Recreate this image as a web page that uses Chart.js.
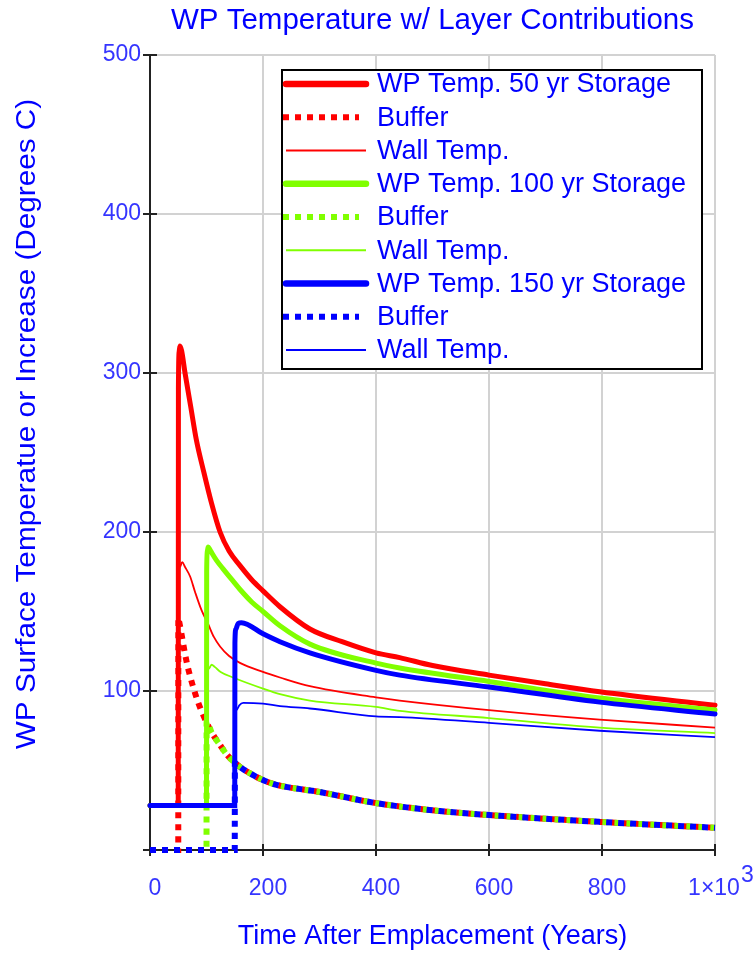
<!DOCTYPE html>
<html>
<head>
<meta charset="utf-8">
<title>WP Temperature w/ Layer Contributions</title>
<script src="https://cdn.jsdelivr.net/npm/chart.js@4.4.0/dist/chart.umd.min.js"></script>
<style>
    html, body { margin: 0; padding: 0; background: #ffffff; }
    #wrap { width: 755px; height: 953px; position: relative; }
</style>
</head>
<body>
<div id="wrap"><canvas id="tempChart"></canvas></div>
<script>
// Étiquettes de l'axe des x (années)
const xTicks = [0, 200, 400, 600, 800, 1000];

// Légende, dans l'ordre des séries
const legendLabels = [
    'WP Temp. 50 yr Storage', 'Buffer', 'Wall Temp.',
    'WP Temp. 100 yr Storage', 'Buffer', 'Wall Temp.',
    'WP Temp. 150 yr Storage', 'Buffer', 'Wall Temp.'
];

// Stockage 50 ans
const wpYears50 = [0, 50, 50.3, 51.5, 53, 56, 62, 72, 82, 95, 109, 124, 140, 159, 180, 200, 230, 283, 340, 400, 442, 500, 600, 700, 796, 1000];
const wpTemp50  = [28, 28, 290, 313, 317, 314, 300, 279, 258, 238, 218, 200, 188, 179, 170, 163, 153, 139, 131, 124, 121, 116, 110, 104.5, 99.5, 91];
const bufferYears50 = [0, 50, 50.2, 52, 65, 76, 85, 94, 109, 124, 136, 153, 178, 200, 224, 300, 400, 513, 600, 800, 1000];
const buffer50      = [0, 0, 146, 143, 118, 103, 93, 85, 74, 66, 60, 54, 48, 44, 41, 36.5, 29.5, 24.5, 22, 17.6, 14];
const wallYears50 = [0, 50, 50.3, 53, 57, 62, 71, 80, 91, 103, 113, 124, 140, 160, 200, 230, 283, 400, 442, 600, 796, 1000];
const wall50      = [28, 28, 165, 178, 181, 178, 172, 162, 151, 142, 134, 128, 122, 117.5, 112, 108.5, 103, 96, 94, 88, 82, 77];

// Stockage 100 ans
const wpYears100 = [0, 100, 100.3, 101.5, 103, 106, 110, 118, 129, 145, 159, 180, 200, 230, 283, 400, 442, 600, 796, 1000];
const wpTemp100  = [28, 28, 175, 188, 190.5, 189, 186.5, 182, 177, 170, 164, 156, 150, 141, 129.5, 117.5, 114.5, 106, 95.6, 88];
const bufferYears100 = [0, 100, 100.2, 109, 124, 136, 153, 178, 200, 224, 300, 400, 513, 600, 800, 1000];
const buffer100      = [0, 0, 81, 74, 66, 60, 54, 48, 44, 41, 36.5, 29.5, 24.5, 22, 17.6, 14];
const wallYears100 = [0, 100, 100.3, 104, 109, 115, 125, 147, 200, 230, 283, 400, 442, 600, 796, 1000];
const wall100      = [28, 28, 108, 114, 116.5, 115, 112, 108.5, 101.5, 98, 94, 90, 87.5, 83, 77, 73.5];

// Stockage 150 ans
const wpYears150 = [0, 150, 150.3, 152, 156, 162, 200, 230, 283, 400, 442, 600, 796, 1000];
const wpTemp150  = [28, 28, 130, 139, 142.5, 143, 136, 131, 124, 113, 110, 102.5, 93, 85.5];
const bufferYears150 = [0, 150, 150.2, 153, 178, 200, 224, 300, 400, 513, 600, 800, 1000];
const buffer150      = [0, 0, 55, 54, 48, 44, 41, 36.5, 29.5, 24.5, 22, 17.6, 14];
const wallYears150 = [0, 150, 150.3, 153, 158, 165, 200, 230, 283, 400, 442, 600, 796, 1000];
const wall150      = [28, 28, 82, 88, 91, 92.5, 92, 90.5, 89, 84, 83.6, 80, 75, 71];

const FONT = '"Liberation Sans", Arial, sans-serif';
const TEXT_BLUE = '#0000ff';
const TICK_BLUE = '#3535ff';
const RED = '#ff0000', GREEN = '#80ff00', BLUE = '#0000ff';

// Construire les points {x, y}
function toPoints(xs, ys) {
    return xs.map((x, i) => ({ x: x, y: ys[i] }));
}

// Style commun des trois types de courbes
function wpSet(label, xs, ys, color, order) {
    return { label, data: toPoints(xs, ys), borderColor: color, borderWidth: 5,
             borderCapStyle: 'round', clip: false, order };
}
function bufferSet(label, xs, ys, color, order) {
    return { label, data: toPoints(xs, ys), borderColor: color, borderWidth: 6,
             borderDash: [6, 6], borderCapStyle: 'butt', clip: false, order };
}
function wallSet(label, xs, ys, color, order) {
    return { label, data: toPoints(xs, ys), borderColor: color, borderWidth: 1.8,
             clip: false, order };
}

// Les ordres élevés sont dessinés en premier (le bleu passe au-dessus)
const datasets = [
    wpSet(legendLabels[0], wpYears50, wpTemp50, RED, 33),
    bufferSet(legendLabels[1], bufferYears50, buffer50, RED, 31),
    wallSet(legendLabels[2], wallYears50, wall50, RED, 32),
    wpSet(legendLabels[3], wpYears100, wpTemp100, GREEN, 23),
    bufferSet(legendLabels[4], bufferYears100, buffer100, GREEN, 21),
    wallSet(legendLabels[5], wallYears100, wall100, GREEN, 22),
    wpSet(legendLabels[6], wpYears150, wpTemp150, BLUE, 13),
    bufferSet(legendLabels[7], bufferYears150, buffer150, BLUE, 11),
    wallSet(legendLabels[8], wallYears150, wall150, BLUE, 12)
];

// Titre, titre vertical, légende encadrée et petites graduations intérieures
const decorPlugin = {
    id: 'decor',
    beforeDatasetsDraw(chart) {
        const ctx = chart.ctx;
        const area = chart.chartArea;
        const xs = chart.scales.x, ys = chart.scales.y;
        ctx.save();
        ctx.strokeStyle = '#222';
        ctx.lineWidth = 2;
        ctx.beginPath();
        xTicks.forEach(v => {
            const px = Math.round(xs.getPixelForValue(v));
            ctx.moveTo(px, area.bottom);
            ctx.lineTo(px, area.bottom - 6);
        });
        for (let v = 100; v <= 500; v += 100) {
            const py = Math.round(ys.getPixelForValue(v));
            ctx.moveTo(area.left, py);
            ctx.lineTo(area.left + 7, py);
        }
        ctx.stroke();
        ctx.restore();
    },
    afterDraw(chart) {
        const ctx = chart.ctx;
        const area = chart.chartArea;
        const xs = chart.scales.x;
        ctx.save();

        // Titre centré sur la zone du graphique
        ctx.fillStyle = TEXT_BLUE;
        ctx.font = '29.5px ' + FONT;
        ctx.textAlign = 'center';
        ctx.textBaseline = 'middle';
        ctx.fillText('WP Temperature w/ Layer Contributions', (area.left + area.right) / 2, 21);

        // Titre de l'axe des y, un peu étiré
        ctx.save();
        ctx.translate(28, 424);
        ctx.rotate(-Math.PI / 2);
        ctx.scale(1.1, 1);
        ctx.font = '27px ' + FONT;
        ctx.fillText('WP Surface Temperatue or Increase (Degrees C)', 0, 0);
        ctx.restore();

        // Dernier libellé de l'axe des x : 1×10 avec l'exposant 3
        ctx.fillStyle = TICK_BLUE;
        ctx.font = '23px ' + FONT;
        ctx.textBaseline = 'alphabetic';
        ctx.textAlign = 'center';
        const cx = xs.getPixelForValue(1000) - 1;
        const half = ctx.measureText('1×10').width / 2;
        ctx.fillText('1×10', cx, area.bottom + 45);
        ctx.textAlign = 'left';
        ctx.fillText('3', cx + half + 1, area.bottom + 32);

        // Cadre de la légende
        const boxW = 420, boxH = 299;
        const bx = area.right - 13 - boxW;
        const by = area.top + 15;
        ctx.fillStyle = '#ffffff';
        ctx.fillRect(bx, by, boxW, boxH);
        ctx.strokeStyle = '#000000';
        ctx.lineWidth = 2;
        ctx.strokeRect(bx, by, boxW, boxH);

        ctx.font = '27px ' + FONT;
        ctx.textAlign = 'left';
        ctx.textBaseline = 'middle';
        chart.data.datasets.forEach((ds, i) => {
            const y = by + 14 + i * 33.25;
            ctx.save();
            ctx.strokeStyle = ds.borderColor;
            ctx.lineWidth = ds.borderWidth > 4 && !ds.borderDash ? 6.5 : ds.borderWidth;
            ctx.lineCap = ds.borderCapStyle || 'butt';
            ctx.setLineDash(ds.borderDash || []);
            ctx.beginPath();
            if (ds.borderDash) {
                ctx.moveTo(bx + 1, y);
                ctx.lineTo(bx + 77, y);
            } else {
                ctx.moveTo(bx + 4, y);
                ctx.lineTo(bx + 84, y);
            }
            ctx.stroke();
            ctx.restore();
            ctx.fillStyle = TEXT_BLUE;
            ctx.fillText(ds.label, bx + 95, y + 1);
        });
        ctx.restore();
    }
};

const ctx = document.getElementById('tempChart').getContext('2d');
const tempChart = new Chart(ctx, {
    type: 'line',
    data: { datasets: datasets },
    options: {
        responsive: true,
        maintainAspectRatio: false,
        animation: false,
        devicePixelRatio: 1,
        layout: { padding: { top: 55, right: 40, bottom: 0, left: 0 } },
        elements: {
            point: { radius: 0, hoverRadius: 0 },
            line: { tension: 0, cubicInterpolationMode: 'monotone', fill: false }
        },
        plugins: {
            legend: { display: false },
            tooltip: { enabled: false }
        },
        scales: {
            x: {
                type: 'linear',
                min: 0,
                max: 1000,
                afterFit: s => { s.height = 103; s.paddingLeft = 0; s.paddingRight = 0; },
                afterBuildTicks: s => { s.ticks = xTicks.map(v => ({ value: v })); },
                grid: { color: '#d2d2d2', lineWidth: 2, tickLength: 6, tickColor: '#222', tickWidth: 2 },
                border: { color: '#222', width: 2 },
                ticks: {
                    autoSkip: false,
                    maxRotation: 0,
                    padding: 19,
                    labelOffset: 5,
                    color: TICK_BLUE,
                    font: { family: FONT, size: 23 },
                    // le libellé 1000 est dessiné à part, avec son exposant
                    callback: v => (v === 1000 ? '' : String(v))
                },
                title: {
                    display: true,
                    text: 'Time After Emplacement (Years)',
                    color: TEXT_BLUE,
                    font: { family: FONT, size: 27 },
                    padding: { top: 0, bottom: 0 }
                }
            },
            y: {
                min: 0,
                max: 500,
                afterFit: s => { s.width = 150; s.paddingTop = 0; s.paddingBottom = 0; },
                grid: { color: '#d2d2d2', lineWidth: 2, tickLength: 7, tickColor: '#222', tickWidth: 2 },
                border: { color: '#222', width: 2 },
                ticks: {
                    stepSize: 100,
                    padding: 2,
                    color: TICK_BLUE,
                    font: { family: FONT, size: 23 },
                    callback: v => (v === 0 ? '' : String(v))
                },
                title: { display: false }
            }
        }
    },
    plugins: [decorPlugin]
});
</script>
</body>
</html>
